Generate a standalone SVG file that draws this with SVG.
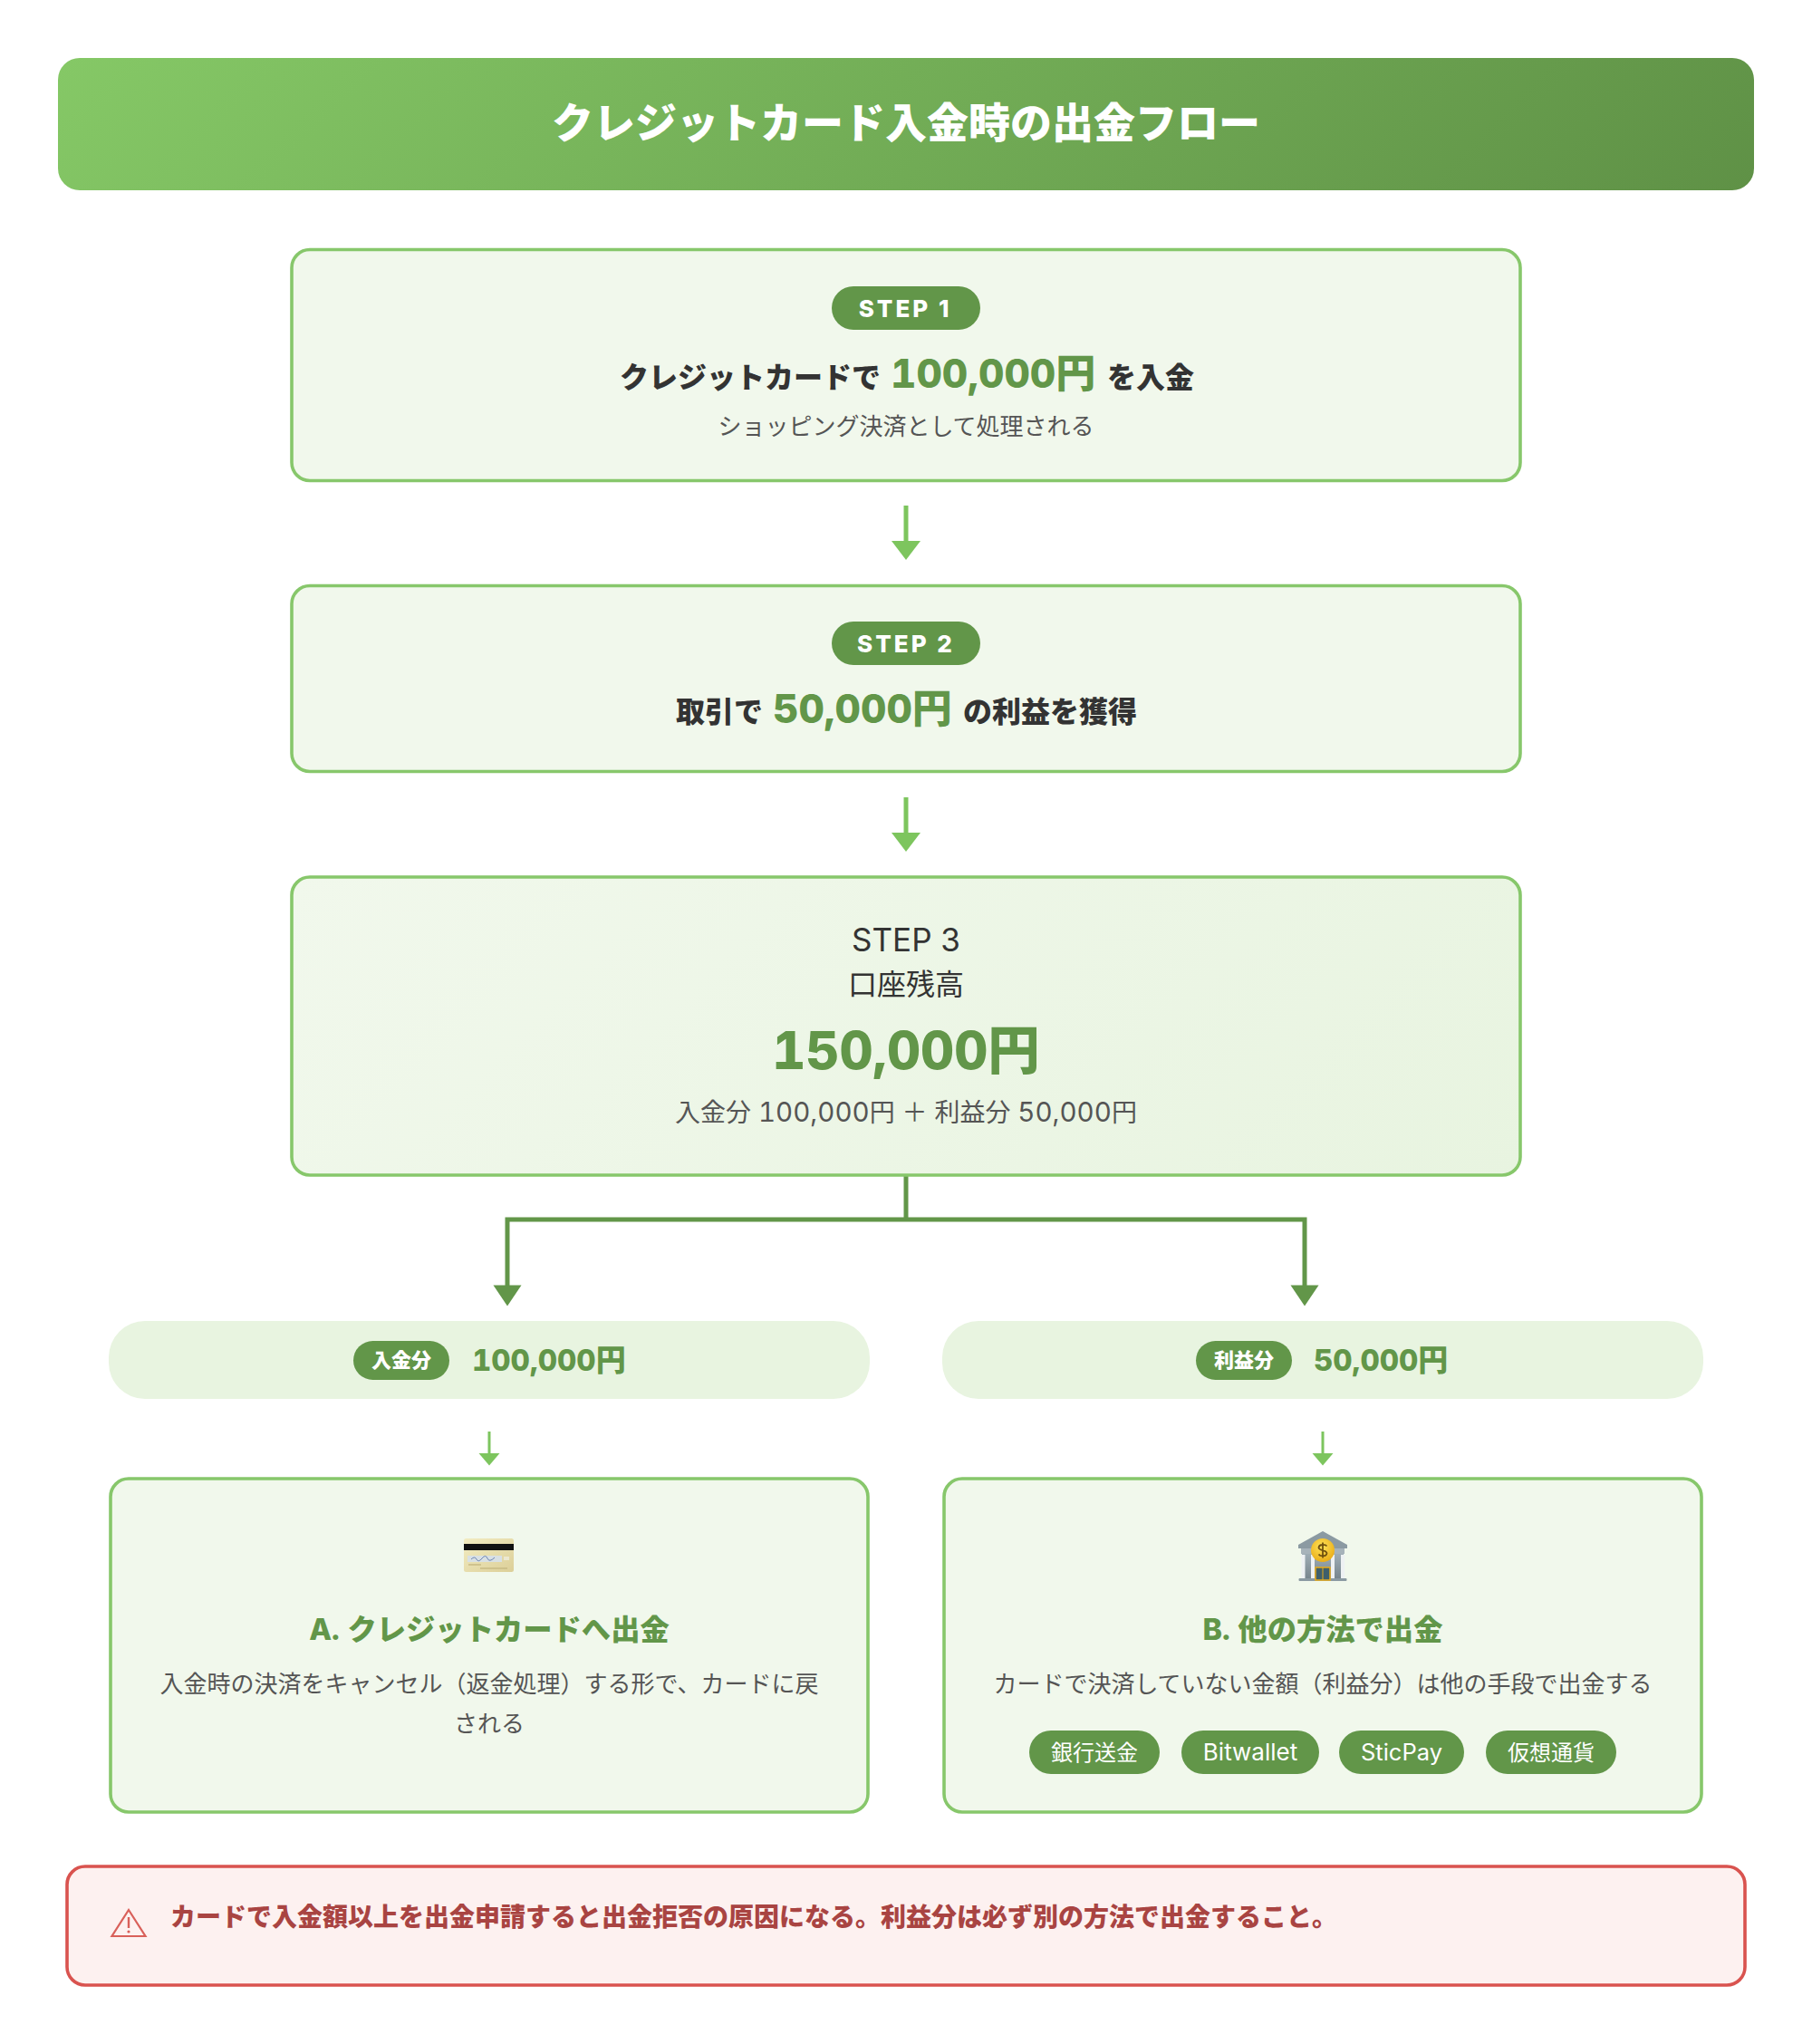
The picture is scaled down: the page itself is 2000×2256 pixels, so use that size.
<svg xmlns="http://www.w3.org/2000/svg" width="2000" height="2256" viewBox="0 0 2000 2256">
<style>
text{font-family:"Inter","Noto Sans CJK JP","Liberation Sans",sans-serif;text-anchor:middle}
.l{text-anchor:start}
.b{font-weight:800}
.card{fill:#f1f8ec;stroke:#87c76b;stroke-width:3.6}
.pill{fill:#e8f4e0}
.dk{fill:#629649}
.num{fill:#629649;font-weight:800;font-variant-numeric:tabular-nums}
.ink{fill:#333333}
.sub{fill:#555555}
.wh{fill:#ffffff}
.a1{stroke:#7dc55e;stroke-width:5;fill:none}
.h1{fill:#7dc55e}
.a2{stroke:#629649;stroke-width:5;fill:none}
.a3{stroke:#7dc55e;stroke-width:3;fill:none}
.tn{font-variant-numeric:tabular-nums}
</style>
<defs>
<linearGradient id="gh" gradientUnits="userSpaceOnUse" x1="495.5" y1="-367.5" x2="1504.5" y2="641.5"><stop offset="0" stop-color="#85c866"/><stop offset="1" stop-color="#5f9146"/></linearGradient>
<linearGradient id="gs" gradientUnits="userSpaceOnUse" x1="577.5" y1="709.5" x2="1422.5" y2="1554.5"><stop offset="0" stop-color="#f1f8ec"/><stop offset="1" stop-color="#e8f4e0"/></linearGradient>
<linearGradient id="gc" x1="0" y1="0" x2="1" y2="1"><stop offset="0" stop-color="#f2ecc2"/><stop offset="1" stop-color="#dccf98"/></linearGradient>
<radialGradient id="gcoin" cx="0.45" cy="0.35" r="0.7"><stop offset="0" stop-color="#ffe35a"/><stop offset="1" stop-color="#e8a912"/></radialGradient>
<linearGradient id="gb" x1="0" y1="0" x2="0" y2="1"><stop offset="0" stop-color="#9fadb5"/><stop offset="1" stop-color="#78868e"/></linearGradient>
</defs>
<rect width="2000" height="2256" fill="#ffffff"/>

<g id="header">
<rect x="64" y="64" width="1872" height="146" rx="24" fill="url(#gh)"/>
<text class="b wh" x="1000" y="152" font-size="46">クレジットカード入金時の出金フロー</text>
</g>

<g id="connectors">
<path class="a1" d="M1000 558V598"/><path class="h1" d="M984 597H1016L1000 618Z"/>
<path class="a1" d="M1000 880V920"/><path class="h1" d="M984 919H1016L1000 940Z"/>
<path class="a2" d="M1000 1298V1346"/>
<path class="a2" d="M560 1420V1346H1440V1420"/>
<path class="dk" d="M544.500 1418.500H575.500L560 1441.500Z"/>
<path class="dk" d="M1424.500 1418.500H1455.500L1440 1441.500Z"/>
<path class="a3" d="M540 1580V1606"/><path class="h1" d="M528.500 1604H551.500L540 1617.500Z"/>
<path class="a3" d="M1460 1580V1606"/><path class="h1" d="M1448.500 1604H1471.500L1460 1617.500Z"/>
</g>

<g id="step1">
<rect class="card" x="322" y="275.500" width="1356" height="255" rx="20"/>
<rect class="dk" x="918" y="316" width="164" height="48" rx="24"/>
<text class="b wh" x="999" y="350" font-size="26" letter-spacing="3">STEP 1</text>
<text class="b ink l" x="684" y="428" font-size="32">クレジットカードで</text>
<text class="num l" x="983" y="428" font-size="44">100,000円</text>
<text class="b ink l" x="1222" y="428" font-size="32">を入金</text>
<text class="sub" x="1000" y="480" font-size="26">ショッピング決済として処理される</text>
</g>

<g id="step2">
<rect class="card" x="322" y="646.500" width="1356" height="205" rx="20"/>
<rect class="dk" x="918" y="686" width="164" height="48" rx="24"/>
<text class="b wh" x="1000" y="720" font-size="26" letter-spacing="3">STEP 2</text>
<text class="b ink l" x="746" y="797" font-size="32">取引で</text>
<text class="num l" x="853" y="798" font-size="44">50,000円</text>
<text class="b ink l" x="1063" y="797" font-size="32">の利益を獲得</text>
</g>

<g id="step3">
<rect x="322" y="968" width="1356" height="329" rx="20" fill="url(#gs)" stroke="#87c76b" stroke-width="3.600"/>
<text class="ink" x="1000" y="1050" font-size="35">STEP 3</text>
<text class="ink" x="1000" y="1098" font-size="32">口座残高</text>
<text class="num" x="1000" y="1180" font-size="57.500">150,000円</text>
<text class="sub" x="1000" y="1238" font-size="28">入金分 <tspan class="tn" font-size="29.500">100,000</tspan>円 ＋ 利益分 <tspan class="tn" font-size="29.500">50,000</tspan>円</text>
</g>

<g id="deposit-pill">
<rect class="pill" x="120" y="1458" width="840" height="86" rx="40"/>
<rect class="dk" x="390" y="1480" width="106" height="43" rx="21.500"/>
<text class="b wh" x="443" y="1509" font-size="22">入金分</text>
<text class="num l" x="521" y="1513" font-size="33">100,000円</text>
</g>

<g id="profit-pill">
<rect class="pill" x="1040" y="1458" width="840" height="86" rx="40"/>
<rect class="dk" x="1320" y="1480" width="106" height="43" rx="21.500"/>
<text class="b wh" x="1373" y="1509" font-size="22">利益分</text>
<text class="num l" x="1450" y="1513" font-size="33">50,000円</text>
</g>

<g id="card-a">
<rect class="card" x="122" y="1632" width="836" height="368" rx="20"/>
<g id="icon-card">
<rect x="512" y="1698" width="55" height="37" rx="2.500" fill="url(#gc)"/>
<rect x="512" y="1704" width="55" height="7" fill="#111111"/>
<rect x="516" y="1717" width="38" height="7" fill="#d8e0e4"/>
<path d="M520 1721q4 -4 6 0t6 -1t6 0t8 -1" stroke="#5570a5" stroke-width="0.800" fill="none"/>
<rect x="556" y="1718" width="6" height="4" fill="#ece8d0"/>
<path d="M517 1727h14M530 1731h30" stroke="#c8ba84" stroke-width="1.500"/>
</g>
<text class="num" x="540" y="1810" font-size="32.300">A. クレジットカードへ出金</text>
<text class="sub" x="540" y="1868" font-size="26">入金時の決済をキャンセル（返金処理）する形で、カードに戻</text>
<text class="sub" x="540" y="1912" font-size="26">される</text>
</g>

<g id="card-b">
<rect class="card" x="1042" y="1632" width="836" height="368" rx="20"/>
<g id="icon-bank">
<path d="M1460 1690L1487 1705V1709H1433V1705Z" fill="#8b9aa2"/>
<rect x="1436" y="1709" width="48" height="6" fill="#a7b3ba"/>
<rect x="1437" y="1715" width="46" height="27" fill="url(#gb)"/>
<rect x="1436.500" y="1716" width="4" height="26" fill="#eef1f3"/>
<rect x="1447" y="1716" width="4" height="26" fill="#eef1f3"/>
<rect x="1469" y="1716" width="4" height="26" fill="#eef1f3"/>
<rect x="1480" y="1716" width="4" height="26" fill="#eef1f3"/>
<rect x="1433.500" y="1742" width="53" height="3" rx="1" fill="#8b9aa2"/>
<rect x="1452" y="1730" width="16" height="14" fill="#3f5f6b" stroke="#e8ab1a" stroke-width="1.500"/>
<path d="M1460 1730V1744" stroke="#e8ab1a" stroke-width="1"/>
<circle cx="1460" cy="1711" r="13" fill="url(#gcoin)"/>
<path d="M1464.500 1706.500C1463 1704.500 1456 1704 1455.500 1708C1455.500 1712 1464.500 1710 1464.500 1714.500C1464 1718.500 1457 1718 1455.500 1715.500M1460 1702.500V1719.500" stroke="#70510f" stroke-width="1.800" fill="none"/>
</g>
<text class="num" x="1460" y="1810" font-size="32.300">B. 他の方法で出金</text>
<text class="sub" x="1460" y="1868" font-size="26">カードで決済していない金額（利益分）は他の手段で出金する</text>
<g id="chip-bank"><rect class="dk" x="1136" y="1910" width="144" height="48" rx="24"/><text class="wh" x="1208" y="1943" font-size="24">銀行送金</text></g>
<g id="chip-bitwallet"><rect class="dk" x="1304" y="1910" width="152" height="48" rx="24"/><text class="wh" x="1380" y="1943" font-size="26">Bitwallet</text></g>
<g id="chip-sticpay"><rect class="dk" x="1478" y="1910" width="138" height="48" rx="24"/><text class="wh" x="1547" y="1943" font-size="25.500">SticPay</text></g>
<g id="chip-crypto"><rect class="dk" x="1640" y="1910" width="144" height="48" rx="24"/><text class="wh" x="1712" y="1943" font-size="24">仮想通貨</text></g>
</g>

<g id="alert">
<rect x="74" y="2060" width="1852" height="131" rx="20" fill="#fdf1f0" stroke="#d9534f" stroke-width="3.600"/>
<g id="icon-warning">
<path d="M142 2108L160.500 2137H123.500Z" fill="none" stroke="#d9605a" stroke-width="2.200" stroke-linejoin="miter"/>
<path d="M142 2116V2128" stroke="#d9605a" stroke-width="2.400"/>
<circle cx="142" cy="2132" r="1.600" fill="#d9605a"/>
</g>
<text class="b l" x="188" y="2126" font-size="28" fill="#a94442">カードで入金額以上を出金申請すると出金拒否の原因になる。利益分は必ず別の方法で出金すること。</text>
</g>
</svg>
